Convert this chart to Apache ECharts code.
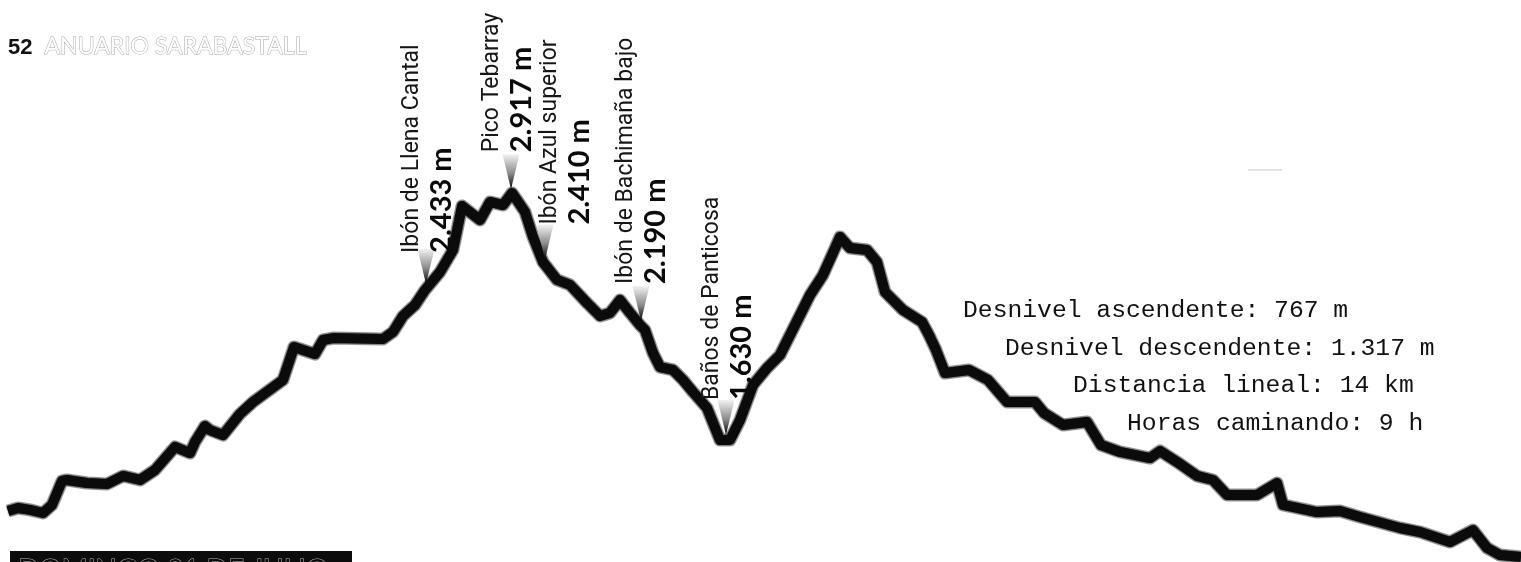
<!DOCTYPE html>
<html><head><meta charset="utf-8">
<script src="https://cdn.jsdelivr.net/npm/echarts@6/dist/echarts.min.js"></script>
<style>html,body{margin:0;padding:0;background:#fff;overflow:hidden}#c{width:1521px;height:562px}</style>
</head><body><div id="c"></div>
<script>
// Profile: path distance (km) and elevation (m)
const distKm = [0.00,0.10,0.22,0.35,0.44,0.54,0.59,0.79,0.99,1.15,1.32,1.47,1.67,1.82,1.87,1.97,2.02,2.15,2.32,2.45,
  2.75,2.86,2.95,3.07,3.15,3.25,3.75,3.85,3.95,4.07,4.17,4.32,4.45,4.54,4.72,4.82,4.95,5.04,5.09,5.17,
  5.25,5.35,5.49,5.62,5.79,5.92,6.02,6.12,6.22,6.32,6.37,6.45,6.52,6.65,6.75,6.85,6.99,7.12,7.22,7.32,
  7.45,7.59,7.72,7.82,7.92,8.02,8.15,8.24,8.32,8.42,8.59,8.69,8.77,8.95,9.14,9.21,9.28,9.37,9.61,9.80,
  9.99,10.27,10.36,10.55,10.79,10.93,11.12,11.42,11.52,11.69,11.89,12.05,12.19,12.49,12.69,12.75,13.09,13.32,13.52,13.92,
  14.12,14.42,14.65,14.79,14.92,15.13];
const elevM = [1260,1276,1266,1250,1292,1417,1422,1406,1401,1443,1422,1474,1594,1562,1620,1703,1682,1656,1766,1828,
  1943,2115,2099,2078,2151,2161,2156,2193,2276,2333,2411,2505,2620,2849,2776,2870,2854,2917,2880,2818,
  2688,2557,2464,2438,2344,2276,2292,2359,2292,2229,2203,2083,2010,1995,1943,1880,1797,1630,1630,1734,
  1917,2005,2073,2177,2281,2385,2490,2594,2688,2630,2620,2557,2401,2307,2245,2177,2099,1979,1995,1943,
  1828,1828,1771,1708,1724,1604,1568,1536,1573,1516,1443,1422,1344,1344,1406,1292,1255,1260,1229,1172,
  1151,1099,1161,1068,1031,1021];

// Waypoints
const wpNames = ['Ibón de Llena Cantal','Pico Tebarray','Ibón Azul superior','Ibón de Bachimaña bajo','Baños de Panticosa'];
const wpAlt = ['2.433 m','2.917 m','2.410 m','2.190 m','1.630 m'];
const wpKm = [4.18, 5.03, 5.37, 6.33, 7.18];

// Texts
const statsLines = ['Desnivel ascendente: 767 m','Desnivel descendente: 1.317 m','Distancia lineal: 14 km','Horas caminando: 9 h'];
const headerNum = '52';
const headerTitle = 'ANUARIO SARABASTALL';
const footerText = 'DOMINGO 31 DE JULIO';

function elevAt(km){
  for (let i=1;i<distKm.length;i++){
    if (km<=distKm[i]){
      const t=(km-distKm[i-1])/(distKm[i]-distKm[i-1]);
      return elevM[i-1]+t*(elevM[i]-elevM[i-1]);
    }
  }
  return elevM[elevM.length-1];
}

const chart = echarts.init(document.getElementById('c'), null, {renderer:'canvas'});
const profile = distKm.map((d,i)=>[d, elevM[i]]);
const triGrad = new echarts.graphic.LinearGradient(0,0,0,1,[
  {offset:0,color:'#f2f2f2'},{offset:0.55,color:'#8a8a8a'},{offset:1,color:'#000'}]);
const labelOffsets = [[-6,1],[0,-4],[-2,20],[0,0],[-2,1]];

const mpData = wpNames.map((n,i)=>({
  name:n,
  coord:[wpKm[i], elevAt(wpKm[i])],
  label:{offset:labelOffsets[i], formatter:'{n|'+n+'}\n{e|'+wpAlt[i]+'}'}
}));

const statsX = [963,1005,1073,1127];
const statsY = [310,348,385,423];

chart.setOption({
  animation:false,
  backgroundColor:'#ffffff',
  grid:{left:8,right:0,top:177,bottom:1,containLabel:false},
  xAxis:{type:'value',min:0,max:15.13,show:false},
  yAxis:{type:'value',min:1000,max:3000,show:false},
  series:[
    {type:'line',data:profile,symbol:'none',silent:true,z:1,
     lineStyle:{width:13,color:'rgba(90,90,90,0.55)',join:'round',cap:'butt'}},
    {type:'line',data:profile,symbol:'none',z:2,
     lineStyle:{width:10,color:'#0b0b0b',join:'round',cap:'butt',shadowBlur:2,shadowColor:'rgba(0,0,0,0.7)'},
     markPoint:{
       symbol:'path://M0,0L18,0L9,35Z',
       symbolSize:[17,35],
       symbolOffset:[0,-22.5],
       itemStyle:{color:triGrad},
       label:{show:true,position:'top',distance:2,rotate:90,align:'left',verticalAlign:'middle',
         rich:{
           n:{fontFamily:'Roboto,sans-serif',fontSize:23,color:'#161616',lineHeight:29},
           e:{fontFamily:'Lato,"Open Sans",sans-serif',fontWeight:'bold',fontSize:29,color:'#0a0a0a',lineHeight:29}
         }},
       data:mpData
     }}
  ],
  graphic:[
    {type:'text',left:8,top:37,style:{text:headerNum,font:'bold 22px "Liberation Sans",sans-serif',fill:'#111'}},
    {type:'text',left:44,top:35,style:{text:headerTitle,font:'23px Lato,sans-serif',fill:'#fff',stroke:'#a8a8a8',lineWidth:1}},
    {type:'rect',shape:{x:10,y:551,width:342,height:11},style:{fill:'#0c0c0c'}},
    {type:'text',x:18,y:557,style:{text:footerText,font:'28px Lato,sans-serif',fill:'#0c0c0c',stroke:'#bbbbbb',lineWidth:1,textVerticalAlign:'top'}},
    {type:'rect',shape:{x:1248,y:169,width:34,height:2},style:{fill:'#e2e2e2'}}
  ].concat(statsLines.map((t,i)=>({type:'text',x:statsX[i],y:statsY[i],
     style:{text:t,font:'24.7px "Liberation Mono","DejaVu Sans Mono",monospace',fill:'#111',textVerticalAlign:'middle'}})))
});
</script></body></html>
